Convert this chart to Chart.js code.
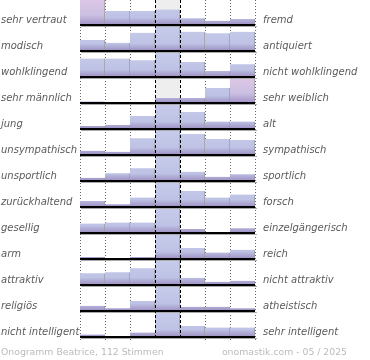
<!DOCTYPE html>
<html>
<head>
<meta charset="utf-8">
<script src="https://cdn.jsdelivr.net/npm/chart.js@4"></script>
<style>
  body { margin: 0; background: #fff; }
</style>
</head>
<body>
<canvas id="onogramm" width="370" height="360"></canvas>
<script>
const columns = ['1', '2', '3', '4', '5', '6', '7'];

const leftLabels = ['sehr vertraut', 'modisch', 'wohlklingend', 'sehr männlich', 'jung', 'unsympathisch',
  'unsportlich', 'zurückhaltend', 'gesellig', 'arm', 'attraktiv', 'religiös', 'nicht intelligent'];
const rightLabels = ['fremd', 'antiquiert', 'nicht wohlklingend', 'sehr weiblich', 'alt', 'sympathisch',
  'sportlich', 'forsch', 'einzelgängerisch', 'reich', 'nicht attraktiv', 'atheistisch', 'sehr intelligent'];

// votes per column, relative to the strongest column of the row (100)
const vertraut = [100, 56, 56, 62, 27, 17, 24];
const modisch = [44, 33, 73, 100, 77, 71, 77];
const wohlklingend = [74, 74, 67, 100, 60, 24, 51];
const maennlich = [6, 0, 0, 20, 20, 60, 100];
const jung = [12, 16, 52, 100, 68, 30, 30];
const unsympathisch = [17, 13, 67, 100, 84, 64, 60];
const unsportlich = [13, 31, 51, 100, 37, 17, 27];
const zurueckhaltend = [24, 11, 38, 100, 64, 38, 50];
const gesellig = [38, 42, 42, 100, 16, 0, 19];
const arm = [8, 0, 8, 100, 44, 26, 37];
const attraktiv = [47, 51, 67, 100, 29, 13, 17];
const religioes = [21, 11, 40, 100, 17, 17, 11];
const intelligent = [10, 0, 18, 100, 44, 38, 38];

const rows = [vertraut, modisch, wohlklingend, maennlich, jung, unsympathisch,
  unsportlich, zurueckhaltend, gesellig, arm, attraktiv, religioes, intelligent];

const footerLeft = 'Onogramm Beatrice, 112 Stimmen';
const footerRight = 'onomastik.com - 05 / 2025';

const ROW_FILL = 0.96;
const MIDDLE = 3;

function rowBase(i) {
  return rows.length - 1 - i;
}

function barFill(ctx, i) {
  const chart = ctx.chart;
  if (!chart.chartArea) return '#c1c6e6';
  const y = chart.scales.y;
  const top = y.getPixelForValue(rowBase(i) + ROW_FILL);
  const bottom = y.getPixelForValue(rowBase(i));
  const g = chart.ctx.createLinearGradient(0, top, 0, bottom);
  const pink = rows[i][ctx.dataIndex] === 100 && ctx.dataIndex !== MIDDLE;
  if (pink) {
    g.addColorStop(0, '#dec6e6');
    g.addColorStop(0.6, '#cbc0e2');
    g.addColorStop(1, '#a292c6');
  } else {
    g.addColorStop(0, '#c8cceb');
    g.addColorStop(0.7, '#bec2e4');
    g.addColorStop(1, '#9d8ec2');
  }
  return g;
}

const frame = {
  id: 'frame',
  beforeDatasetsDraw(chart) {
    const { ctx, chartArea: a } = chart;
    const w = (a.right - a.left) / columns.length;
    ctx.save();
    ctx.fillStyle = '#eeeeee';
    ctx.fillRect(a.left + MIDDLE * w, a.top, w, a.bottom - a.top + 2);
    ctx.strokeStyle = '#666';
    ctx.lineWidth = 1;
    ctx.setLineDash([1, 2]);
    for (let k = 0; k <= columns.length; k++) {
      if (k === MIDDLE || k === MIDDLE + 1) continue;
      const x = Math.round(a.left + k * w) + 0.5;
      ctx.beginPath();
      ctx.moveTo(x, a.top);
      ctx.lineTo(x, a.bottom + 3);
      ctx.stroke();
    }
    ctx.restore();
  },
  afterDatasetsDraw(chart) {
    const { ctx, chartArea: a, scales: { y } } = chart;
    const w = (a.right - a.left) / columns.length;
    ctx.save();
    rows.forEach((r, i) => {
      const b = Math.round(y.getPixelForValue(rowBase(i)));
      ctx.fillStyle = '#aaaaaa';
      ctx.fillRect(a.left + 1, b + 1, a.right - a.left + 1, 1);
      ctx.fillStyle = '#000';
      ctx.fillRect(a.left, b - 1, a.right - a.left, 2);
    });
    ctx.strokeStyle = '#000';
    ctx.lineWidth = 1;
    ctx.setLineDash([3, 2]);
    [MIDDLE, MIDDLE + 1].forEach((k) => {
      const x = Math.round(a.left + k * w) + 0.5;
      ctx.beginPath();
      ctx.moveTo(x, a.top);
      ctx.lineTo(x, a.bottom + 3);
      ctx.stroke();
    });
    ctx.restore();
  },
  afterDraw(chart) {
    const { ctx, chartArea: a, scales: { y } } = chart;
    ctx.save();
    ctx.font = 'italic 10px "DejaVu Sans"';
    ctx.fillStyle = '#5a5a5a';
    ctx.textBaseline = 'alphabetic';
    rows.forEach((r, i) => {
      const b = y.getPixelForValue(rowBase(i));
      ctx.textAlign = 'left';
      ctx.fillText(leftLabels[i], 1, b - 2);
      ctx.fillText(rightLabels[i], a.right + 8, b - 2);
    });
    ctx.font = '9.3px "DejaVu Sans"';
    ctx.fillStyle = '#bbbbbb';
    ctx.fillText(footerLeft, 1, 355);
    ctx.textAlign = 'right';
    ctx.fillText(footerRight, 347, 355);
    ctx.restore();
  }
};

new Chart(document.getElementById('onogramm'), {
  type: 'bar',
  data: {
    labels: columns,
    datasets: rows.map((values, i) => ({
      label: leftLabels[i],
      data: values.map((v) => [rowBase(i), rowBase(i) + (v / 100) * ROW_FILL]),
      grouped: false,
      categoryPercentage: 1,
      barPercentage: 1,
      borderSkipped: false,
      borderWidth: { top: 0, right: 1, bottom: 0, left: 0 },
      borderColor: '#9a9a9a',
      backgroundColor: (ctx) => barFill(ctx, i),
    })),
  },
  options: {
    responsive: false,
    animation: false,
    layout: { padding: { left: 80, right: 115, top: 0, bottom: 23 } },
    plugins: {
      legend: { display: false },
      tooltip: { enabled: false },
    },
    scales: {
      x: { display: false },
      y: { display: false, min: 0, max: rows.length - 1 + ROW_FILL },
    },
  },
  plugins: [frame],
});
</script>
</body>
</html>
